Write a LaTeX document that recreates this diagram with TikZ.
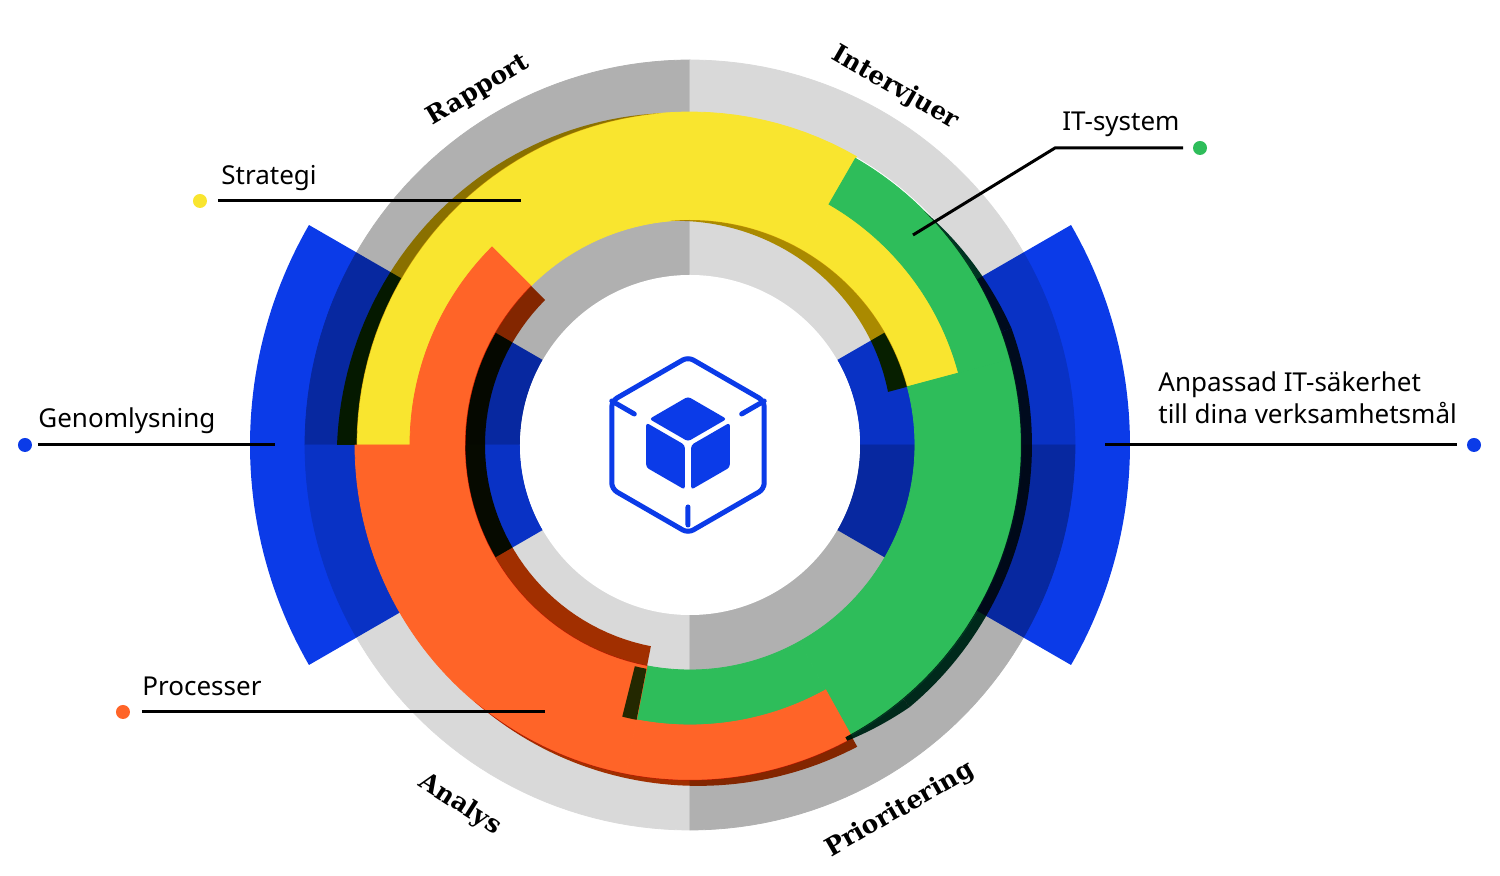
\documentclass[tikz,border=0pt]{standalone}
\usepackage{fontspec}
\setmainfont{Noto Sans}
\newfontfamily\slab{DejaVu Serif}
\definecolor{gD}{HTML}{B0B0B0}
\definecolor{gL}{HTML}{D9D9D9}
\definecolor{blu}{HTML}{0B3BE8}
\definecolor{yel}{HTML}{F9E52F}
\definecolor{grn}{HTML}{2EBD5A}
\definecolor{org}{HTML}{FF6428}
\definecolor{ysh}{RGB}{200,163,0}
\definecolor{osh}{RGB}{190,56,0}
\definecolor{gsh}{RGB}{0,60,40}
\definecolor{gend}{RGB}{35,40,0}
\newcommand\myband[7]{%
\fill[#1] plot[domain=#2:#3,samples=50] (\x:{#4+(#5-#4)*(\x-#2)/(#3-#2)}) -- plot[domain=#3:#2,samples=50] (\x:{#6+(#7-#6)*(\x-#2)/(#3-#2)}) -- cycle;}
\begin{document}
\begin{tikzpicture}[x=0.5pt,y=0.5pt,
  lbl/.style={font=\fontsize{13pt}{15pt}\selectfont, anchor=base west, inner sep=0},
  arc/.style={font=\slab\bfseries\fontsize{12.5pt}{14pt}\selectfont, inner sep=0},
  dot/.style={circle, inner sep=0, minimum size=7pt},
  ln/.style={line width=1.5pt},
  sm/.style={fill=#1, draw=#1, line width=0.4pt}]
\useasboundingbox (-690,-431) rectangle (810,445);
% gray rings
\myband{sm=gD}{90}{180}{333}{333}{385}{385}
\myband{sm=gL}{0}{90}{333}{333}{385}{385}
\myband{sm=gL}{180}{270}{333}{333}{385}{385}
\myband{sm=gD}{270}{360}{333}{333}{385}{385}
\myband{sm=gD}{90}{180}{170}{170}{225}{225}
\myband{sm=gL}{0}{90}{170}{170}{225}{225}
\myband{sm=gL}{180}{270}{170}{170}{225}{225}
\myband{sm=gD}{270}{360}{170}{170}{225}{225}
% blue sectors
\begin{scope}[blend mode=multiply]
\myband{blu}{150}{210}{170}{170}{440}{440}
\myband{blu}{-30}{30}{170}{170}{440}{440}
\end{scope}
\fill[white] (0,0) circle (170);
% coloured bands
\myband{sm=yel}{60}{180}{225}{225}{333}{333}
\myband{sm=yel}{15}{60}{225}{225}{278}{278}
\myband{sm=grn}{15}{60}{278}{278}{331}{331}
\myband{sm=grn}{-61}{15}{225}{225}{331}{331}
\myband{sm=grn}{-101}{-61}{225}{225}{280}{280}
\myband{sm=org}{135}{180}{225}{225}{280}{280}
\myband{sm=org}{180}{259}{225}{225}{335}{335}
\myband{sm=org}{259}{299}{280}{280}{335}{335}
% shadows
\begin{scope}[blend mode=multiply]
\myband{ysh}{95}{180}{333}{333}{333}{353}
\myband{ysh}{15}{95}{205}{225}{225}{225}
\myband{osh}{135}{259}{205}{205}{225}{225}
\myband{osh}{230}{299}{335}{335}{335}{345}
\myband{gsh}{20}{45}{331}{331}{342}{331}
\myband{gsh}{-50}{20}{331}{331}{342}{342}
\myband{gsh}{-62}{-50}{331}{331}{335}{342}
\end{scope}
\myband{gend}{-104}{-101}{228}{228}{280}{280}
% icon
\begin{scope}[shift={(-2,0)}]
\draw[blu, line width=2.5pt, rounded corners=3pt] (90:88) -- (30:88) -- (-30:88) -- (-90:88) -- (-150:88) -- (150:88) -- cycle;
\draw[blu, line width=2.5pt, line cap=round] (150:88) -- (150:62) (30:88) -- (30:62) (-90:80) -- (-90:62);
\fill[blu, rounded corners=1.5pt] (0,48.4) -- (38.7,26) -- (0,3.6) -- (-38.7,26) -- cycle;
\fill[blu, rounded corners=1.5pt] (3.15,0) -- (41.85,22.36) -- (41.85,-22.36) -- (3.15,-44.72) -- cycle;
\fill[blu, rounded corners=1.5pt] (-3.15,0) -- (-41.85,22.36) -- (-41.85,-22.36) -- (-3.15,-44.72) -- cycle;
\end{scope}
% ring labels
\node[arc, rotate=30.8] (rap) at (120.8:413) {Rapport};
\node[arc, rotate=-29.9] (int) at (60.1:412) {Intervjuer};
\node[arc, rotate=-32.6] (ana) at (237.4:427) {Analys};
\node[arc, rotate=29.9] (pri) at (-60.1:421) {Prioritering};
% callouts
\node[dot, fill=yel] (dS) at (-490,244) {};
\coordinate (s1) at (-472,244); \coordinate (s2) at (-169,244);
\draw[ln] (s1) -- (s2);
\node[lbl] (tS) at (-469,260) {Strategi};
\node[dot, fill=grn] (dI) at (510,297) {};
\coordinate (i1) at (223,210); \coordinate (i2) at (365,297); \coordinate (i3) at (493,297);
\draw[ln] (i1) -- (i2) -- (i3);
\node[lbl] (tI) at (372,314) {IT-system};
\node[dot, fill=blu] (dG) at (-665,0) {};
\coordinate (g1) at (-652,0); \coordinate (g2) at (-415,0);
\draw[ln] (g1) -- (g2);
\node[lbl] (tG) at (-652,17) {Genomlysning};
\node[dot, fill=blu] (dA) at (784,0) {};
\coordinate (a1) at (415,0); \coordinate (a2) at (767,0);
\draw[ln] (a1) -- (a2);
\node[lbl] (tA1) at (468,53) {Anpassad IT-säkerhet};
\node[lbl] (tA2) at (468,21) {till dina verksamhetsmål};
\node[dot, fill=org] (dP) at (-567,-267) {};
\coordinate (p1) at (-548,-267); \coordinate (p2) at (-145,-267);
\draw[ln] (p1) -- (p2);
\node[lbl] (tP) at (-548,-251) {Processer};
\end{tikzpicture}
\end{document}
